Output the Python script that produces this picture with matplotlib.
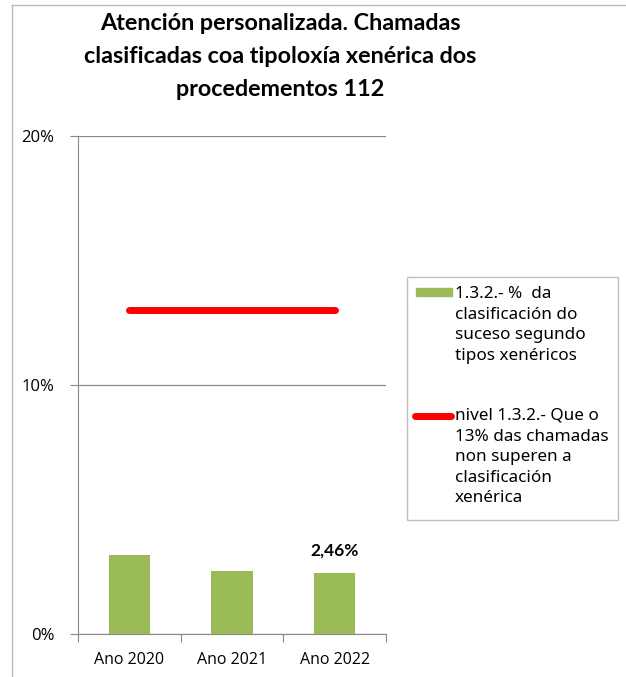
import matplotlib
matplotlib.use("Agg")
import matplotlib.pyplot as plt
from matplotlib.patches import Rectangle
from matplotlib.lines import Line2D
from matplotlib import font_manager as fm

categories = ["Ano 2020", "Ano 2021", "Ano 2022"]
values = [3.16, 2.53, 2.46]
target = [13.0, 13.0, 13.0]
yticks = [0, 10, 20]
ytick_labels = ["0%", "10%", "20%"]
bar_label = "2,46%"
legend_bar = "1.3.2.- %  da\nclasificación do\nsuceso segundo\ntipos xenéricos"
legend_line = "nivel 1.3.2.- Que o\n13% das chamadas\nnon superen a\nclasificación\nxenérica"
title = "Atención personalizada. Chamadas\nclasificadas coa tipoloxía xenérica dos\nprocedementos 112"

names = {f.name for f in fm.fontManager.ttflist if f.weight in (700, "bold")}
bold_family = "Noto Sans" if "Noto Sans" in names else ("Lato" if "Lato" in names else "DejaVu Sans")

W, H = 626, 677
fig = plt.figure(figsize=(W / 100, H / 100), dpi=100)
fx = lambda px: px / W
fy = lambda py: 1 - py / H

ax = fig.add_axes([fx(78), fy(634), fx(386) - fx(78), fy(136) - fy(634)])
x = list(range(len(categories)))
ax.bar(x, values, width=0.4, color="#9BBB59", zorder=3)
ax.plot(x, target, color="#FF0000", lw=5, solid_capstyle="round", zorder=4)
ax.set_xlim(-0.5, 2.5)
ax.set_ylim(0, 20)
ax.set_yticks(yticks)
ax.set_yticklabels(ytick_labels, fontfamily="Open Sans", fontsize=12)
ax.set_xticks([-0.5, 0.5, 1.5, 2.5])
ax.set_xticklabels([])
ax.set_xticks(x, minor=True)
ax.set_xticklabels(categories, minor=True, fontfamily="Open Sans", fontsize=11.5)
ax.tick_params(axis="x", which="major", length=6, color="#888888")
ax.tick_params(axis="x", which="minor", length=0, pad=13)
ax.tick_params(axis="y", length=6, color="#888888", pad=11)
ax.yaxis.grid(True, color="#888888", lw=0.9, zorder=0)
for s in ["top", "right"]:
    ax.spines[s].set_visible(False)
for s in ["left", "bottom"]:
    ax.spines[s].set_color("#888888")
ax.annotate(bar_label, (x[2], values[2]), xytext=(0, 10), textcoords="offset points",
            ha="center", va="bottom", fontweight="bold", fontsize=12.5, fontfamily=bold_family)

fig.text(fx(280), fy(13), title, ha="center", va="top", fontsize=16.8,
         fontweight="bold", fontfamily=bold_family, linespacing=1.72)

# outer frame (left and top)
fig.add_artist(Line2D([fx(12), fx(12)], [fy(5), 0], color="#BBBBBB", lw=1))
fig.add_artist(Line2D([fx(12), 1], [fy(5), fy(5)], color="#BBBBBB", lw=1))

# legend box
fig.add_artist(Rectangle((fx(407), fy(520)), fx(618) - fx(407), fy(277) - fy(520),
                         fill=False, edgecolor="#C0C0C0", lw=1))
fig.add_artist(Rectangle((fx(416), fy(296)), fx(452) - fx(416), fy(288) - fy(296),
                         color="#9BBB59"))
fig.add_artist(Line2D([fx(415), fx(451)], [fy(415.5), fy(415.5)], color="#FF0000", lw=5,
                      solid_capstyle="round"))
fig.text(fx(455), fy(286), legend_bar, ha="left", va="top", fontsize=12.3,
         fontfamily="Noto Sans", linespacing=1.38)
fig.text(fx(455), fy(408), legend_line, ha="left", va="top", fontsize=12.3,
         fontfamily="Noto Sans", linespacing=1.38)

fig.savefig("out.png", dpi=100)
